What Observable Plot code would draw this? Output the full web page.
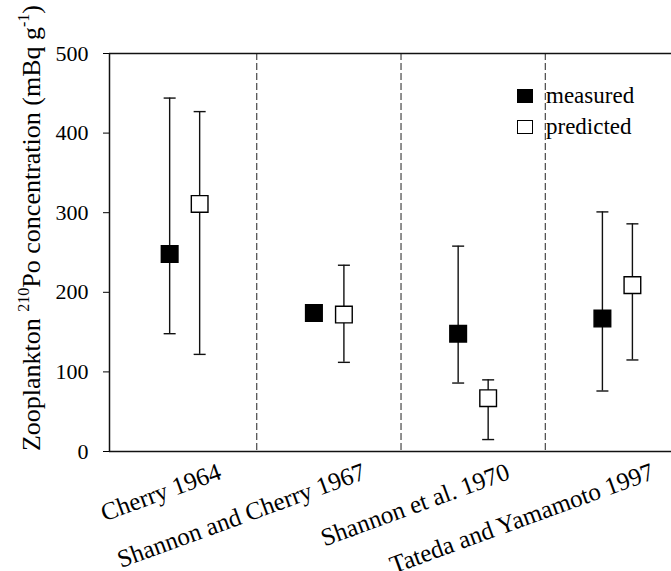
<!DOCTYPE html>
<html>
<head>
<meta charset="utf-8">
<script src="https://cdn.jsdelivr.net/npm/d3@7"></script>
<script src="https://cdn.jsdelivr.net/npm/@observablehq/plot@0.6"></script>
<style>
  body { margin: 0; background: #fff; }
  #wrap { position: relative; width: 671px; height: 571px; font-family: "Liberation Serif", "Times New Roman", serif; }
  #wrap svg text { font-family: "Liberation Serif", "Times New Roman", serif; }
  .leg { position: absolute; font-size: 23px; color: #000; line-height: 1; }
  .sw { position: absolute; width: 16px; height: 14px; box-sizing: border-box; border: 1.5px solid #000; }
</style>
</head>
<body>
<div id="wrap"></div>
<script>
// ---- data ----
const groups = ["Cherry 1964", "Shannon and Cherry 1967", "Shannon et al. 1970", "Tateda and Yamamoto 1997"];
const measured = [248, 174, 148, 167];
const measuredLow = [148, null, 86, 76];
const measuredHigh = [444, null, 258, 301];
const predicted = [311, 172, 67, 209];
const predictedLow = [122, 112, 15, 115];
const predictedHigh = [427, 234, 90, 286];
const yTicks = [0, 100, 200, 300, 400, 500];
const seriesNames = ["measured", "predicted"];

// ---- table ----
const rows = [];
groups.forEach((g, i) => {
  rows.push({pos: i + 1, series: "measured", v: measured[i], lo: measuredLow[i], hi: measuredHigh[i]});
  rows.push({pos: i + 1, series: "predicted", v: predicted[i], lo: predictedLow[i], hi: predictedHigh[i]});
});
const labelRows = groups.map((g, i) => ({pos: i + 1, text: g}));
const bars = rows.filter(d => d.lo != null);
const xDomain = [0.479, 4.375];
const off = 15;

const cap = { draw(ctx) { ctx.moveTo(-6, 0); ctx.lineTo(6, 0); } };

function layers(series, dx) {
  const eb = bars.filter(d => d.series === series);
  const pts = rows.filter(d => d.series === series);
  return [
    Plot.ruleX(eb, {x: "pos", y1: "lo", y2: "hi", dx, stroke: "#111", strokeWidth: 1.4}),
    Plot.dot(eb, {x: "pos", y: "hi", dx, symbol: cap, r: 6, stroke: "#111", strokeWidth: 1.4, fill: "none"}),
    Plot.dot(eb, {x: "pos", y: "lo", dx, symbol: cap, r: 6, stroke: "#111", strokeWidth: 1.4, fill: "none"}),
    Plot.dot(pts, {x: "pos", y: "v", dx, symbol: "square", r: 9.4, stroke: "#000", strokeWidth: 1.4,
      fill: series === "measured" ? "#000" : "#fff"})
  ];
}

const chart = Plot.plot({
  width: 671,
  height: 571,
  marginLeft: 109,
  marginRight: 0,
  marginTop: 53,
  marginBottom: 120,
  style: {fontFamily: "Liberation Serif, Times New Roman, serif", fontSize: "22px", color: "#000", background: "#fff", overflow: "visible"},
  x: {domain: xDomain, axis: null},
  y: {domain: [0, 500], ticks: yTicks, tickSize: 6, tickPadding: 15, label: null},
  marks: [
    Plot.ruleX([1.5, 2.5, 3.5], {stroke: "#222", strokeWidth: 1, strokeDasharray: "7,3"}),
    Plot.ruleY([0, 500], {stroke: "#111", strokeWidth: 1.5}),
    Plot.ruleX([xDomain[0]], {stroke: "#111", strokeWidth: 1.5}),
    ...layers("measured", -off),
    ...layers("predicted", off),
    Plot.text(labelRows, {x: "pos", text: "text", frameAnchor: "bottom", dx: 38, dy: 27, rotate: -20,
      textAnchor: "end", lineAnchor: "bottom", fontSize: 25, fill: "#000"})
  ]
});

const wrap = document.getElementById("wrap");
wrap.appendChild(chart);

// y-axis title with superscripts
const svg = d3.select(chart);
const t = svg.append("text")
  .attr("transform", "translate(40,228) rotate(-90)")
  .attr("text-anchor", "middle")
  .attr("font-size", 26)
  .attr("fill", "#000");
t.append("tspan").text("Zooplankton ");
t.append("tspan").attr("font-size", 16).attr("dy", -11).text("210");
t.append("tspan").attr("dy", 11).text("Po concentration (mBq g");
t.append("tspan").attr("font-size", 16).attr("dy", -11).text("-1");
t.append("tspan").attr("dy", 11).text(")");

// legend
const legTop = [89, 120];
seriesNames.forEach((s, i) => {
  const sw = document.createElement("div");
  sw.className = "sw";
  sw.style.left = "517px";
  sw.style.top = legTop[i] + "px";
  sw.style.background = s === "measured" ? "#000" : "#fff";
  wrap.appendChild(sw);
  const lb = document.createElement("div");
  lb.className = "leg";
  lb.style.left = "546px";
  lb.style.top = (legTop[i] - 5) + "px";
  lb.textContent = s;
  wrap.appendChild(lb);
});
</script>
</body>
</html>
